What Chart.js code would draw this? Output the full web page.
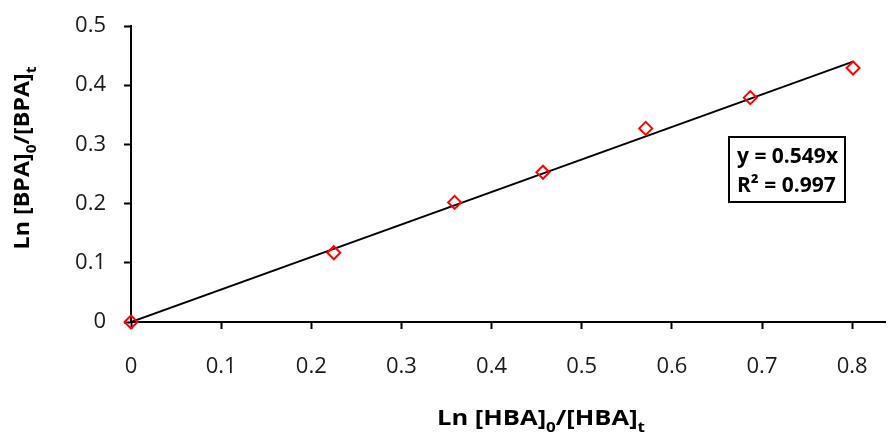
<!DOCTYPE html>
<html>
<head>
<meta charset="utf-8">
<script src="https://cdn.jsdelivr.net/npm/chart.js@4.4.1/dist/chart.umd.min.js"></script>
<style>
  html, body { margin: 0; padding: 0; background: #fff; overflow: hidden; }
</style>
</head>
<body>
<!-- a few px wider than the window: chart.js keeps room for the "0.8" label on the right -->
<canvas id="myChart" width="894" height="433"></canvas>
<script>
// data
const hbaValues = [0, 0.225, 0.359, 0.457, 0.571, 0.687, 0.801];
const bpaValues = [0, 0.117, 0.202, 0.253, 0.327, 0.379, 0.429];
const slope = 0.549;
const rSquared = 0.997;
const xTicks = [0, 0.1, 0.2, 0.3, 0.4, 0.5, 0.6, 0.7, 0.8];
const yTicks = [0, 0.1, 0.2, 0.3, 0.4, 0.5];

const FONT = "'Open Sans', sans-serif";

const points = hbaValues.map((x, i) => ({ x: x, y: bpaValues[i] }));
const xEnd = hbaValues[hbaValues.length - 1];
const trend = [{ x: 0, y: 0 }, { x: xEnd, y: slope * xEnd }];

// "Ln [X]0/[X]t" with subscripts, centred at cx, baseline at by, fitted to width w
function subTitle(ctx, parts, cx, by, rot, w) {
  ctx.save();
  ctx.translate(cx, by);
  ctx.rotate(rot);
  ctx.textBaseline = "alphabetic";
  ctx.textAlign = "left";
  const big = "bold 21px " + FONT;
  const small = "bold 14px " + FONT;
  let total = 0;
  parts.forEach(p => {
    ctx.font = p.sub ? small : big;
    p.w = ctx.measureText(p.t).width;
    total += p.w;
  });
  ctx.scale(w / total, 1);
  let x = -total / 2;
  parts.forEach(p => {
    ctx.font = p.sub ? small : big;
    ctx.fillStyle = "#000";
    ctx.fillText(p.t, x, p.sub ? 7 : 0);
    x += p.w;
  });
  ctx.restore();
}

const extras = {
  id: "extras",
  afterDraw(chart) {
    const ctx = chart.ctx;
    subTitle(ctx, [
      { t: "Ln [HBA]" }, { t: "0", sub: true }, { t: "/[HBA]" }, { t: "t", sub: true }
    ], 541, 425, 0, 208);
    subTitle(ctx, [
      { t: "Ln [BPA]" }, { t: "0", sub: true }, { t: "/[BPA]" }, { t: "t", sub: true }
    ], 29, 158, -Math.PI / 2, 183);

    // equation box
    ctx.save();
    ctx.fillStyle = "#fff";
    ctx.fillRect(729, 137, 116, 65);
    ctx.strokeStyle = "#000";
    ctx.lineWidth = 2;
    ctx.strokeRect(729, 137, 116, 65);
    ctx.fillStyle = "#000";
    ctx.font = "bold 21px " + FONT;
    ctx.textAlign = "left";
    ctx.textBaseline = "alphabetic";
    ctx.fillText("y = " + slope.toFixed(3) + "x", 737, 163);
    ctx.fillText("R\u00b2 = " + rSquared.toFixed(3), 737, 192);
    ctx.restore();
  }
};

const ctx = document.getElementById("myChart").getContext("2d");
const myChart = new Chart(ctx, {
  type: "scatter",
  data: {
    datasets: [
      {
        label: "trend",
        data: trend,
        showLine: true,
        borderColor: "#000",
        borderWidth: 2,
        pointRadius: 0,
        order: 2
      },
      {
        label: "data",
        data: points,
        clip: false,
        pointStyle: "rectRot",
        pointRadius: 6.5,
        pointBorderWidth: 2,
        pointBorderColor: "#ff0000",
        pointBackgroundColor: "rgba(255,255,255,0)",
        order: 1
      }
    ]
  },
  options: {
    responsive: false,
    animation: false,
    layout: { padding: { top: 26, right: 0, left: 0, bottom: 0 } },
    plugins: {
      legend: { display: false },
      tooltip: { enabled: false }
    },
    scales: {
      x: {
        type: "linear",
        min: 0,
        max: 0.837,
        afterBuildTicks: s => { s.ticks = xTicks.map(v => ({ value: v })); },
        afterFit: s => { s.height = 111; },
        border: { color: "#000", width: 2 },
        grid: {
          drawOnChartArea: false,
          drawTicks: true,
          tickLength: 7,
          tickWidth: 2,
          color: "#000"
        },
        ticks: {
          padding: 25,
          color: "#1a1a1a",
          font: { family: FONT, size: 22 },
          callback: v => String(v)
        }
      },
      y: {
        type: "linear",
        min: 0,
        max: 0.5,
        afterBuildTicks: s => { s.ticks = yTicks.map(v => ({ value: v })); },
        afterFit: s => { s.width = 131; s.paddingTop = 0; s.paddingBottom = 0; },
        border: { color: "#000", width: 2 },
        grid: {
          drawOnChartArea: false,
          drawTicks: true,
          tickLength: 7,
          tickWidth: 2,
          color: "#000"
        },
        ticks: {
          padding: 18,
          color: "#1a1a1a",
          font: { family: FONT, size: 22 },
          callback: v => String(v)
        }
      }
    }
  },
  plugins: [extras]
});
</script>
</body>
</html>
